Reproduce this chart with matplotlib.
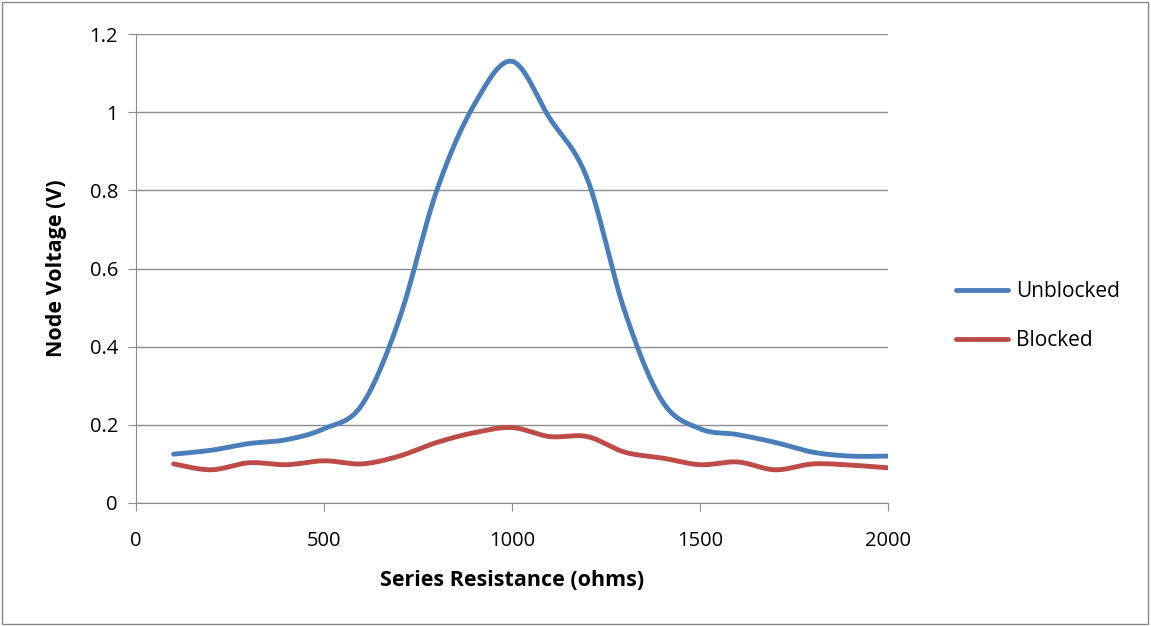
import numpy as np
import matplotlib
matplotlib.use('Agg')
import matplotlib.pyplot as plt

plt.rcParams['font.family'] = ['Open Sans', 'DejaVu Sans']

resistance = [100, 200, 300, 400, 500, 600, 700, 800, 900, 1000,
              1100, 1200, 1300, 1400, 1500, 1600, 1700, 1800, 1900, 2000]
unblocked = [0.125, 0.135, 0.152, 0.162, 0.19, 0.25, 0.47, 0.80, 1.02, 1.13,
             0.985, 0.83, 0.49, 0.26, 0.19, 0.175, 0.155, 0.13, 0.12, 0.12]
blocked = [0.10, 0.085, 0.103, 0.098, 0.108, 0.10, 0.12, 0.155, 0.18, 0.193,
           0.17, 0.17, 0.13, 0.115, 0.098, 0.105, 0.085, 0.10, 0.097, 0.09]


def smooth(x, y, n=30):
    # excel-like smoothed line (cardinal bezier between points)
    x = np.asarray(x, float)
    y = np.asarray(y, float)
    px = np.concatenate([[x[0]], x, [x[-1]]])
    py = np.concatenate([[y[0]], y, [y[-1]]])
    xs, ys = [], []
    t = np.linspace(0, 1, n)
    for i in range(1, len(px) - 2):
        p0 = np.array([px[i], py[i]])
        p3 = np.array([px[i + 1], py[i + 1]])
        p1 = p0 + (np.array([px[i + 1], py[i + 1]]) - np.array([px[i - 1], py[i - 1]])) / 6
        p2 = p3 - (np.array([px[i + 2], py[i + 2]]) - np.array([px[i], py[i]])) / 6
        b = ((1 - t) ** 3)[:, None] * p0 + (3 * (1 - t) ** 2 * t)[:, None] * p1 \
            + (3 * (1 - t) * t ** 2)[:, None] * p2 + (t ** 3)[:, None] * p3
        xs.extend(b[:, 0])
        ys.extend(b[:, 1])
    return xs, ys


fig = plt.figure(figsize=(11.51, 6.26), dpi=100)
ax = fig.add_axes([136 / 1151, 1 - 503 / 626, (888 - 136) / 1151, (503 - 34) / 626])

fig.patches.append(plt.Rectangle((0.002, 0.003), 0.995, 0.994, transform=fig.transFigure,
                                 fill=False, edgecolor='#888888', linewidth=1))

xs, ys = smooth(resistance, unblocked)
ax.plot(xs, ys, color='#4a7ebb', linewidth=3.5, label='Unblocked', solid_capstyle='round')
xs, ys = smooth(resistance, blocked)
ax.plot(xs, ys, color='#be4b48', linewidth=3.5, label='Blocked', solid_capstyle='round')

ax.set_xlim(0, 2000)
ax.set_ylim(0, 1.2)
ax.set_xticks([0, 500, 1000, 1500, 2000])
ax.set_yticks([0, 0.2, 0.4, 0.6, 0.8, 1.0, 1.2])
ax.set_yticklabels(['0', '0.2', '0.4', '0.6', '0.8', '1', '1.2'])
ax.yaxis.grid(True, color='#8c8c8c', linewidth=1)
ax.set_axisbelow(True)
for s in ['top', 'right']:
    ax.spines[s].set_visible(False)
for s in ['left', 'bottom']:
    ax.spines[s].set_color('#8c8c8c')
ax.tick_params(axis='both', colors='#8c8c8c', labelcolor='black', labelsize=14.5,
               length=6, direction='out')
ax.tick_params(axis='x', pad=14)
ax.tick_params(axis='y', pad=7)

ax.set_xlabel('Series Resistance (ohms)', fontsize=15.5, fontweight='bold', labelpad=14)
ax.set_ylabel('Node Voltage (V)', fontsize=15.5, fontweight='bold', labelpad=16)

fig.legend(loc='center left', bbox_to_anchor=(937 / 1151, 1 - 316 / 626), frameon=False,
           fontsize=15, handlelength=2.5, labelspacing=1.35, handletextpad=0.4)

plt.savefig('out.png', dpi=100, facecolor='white')
